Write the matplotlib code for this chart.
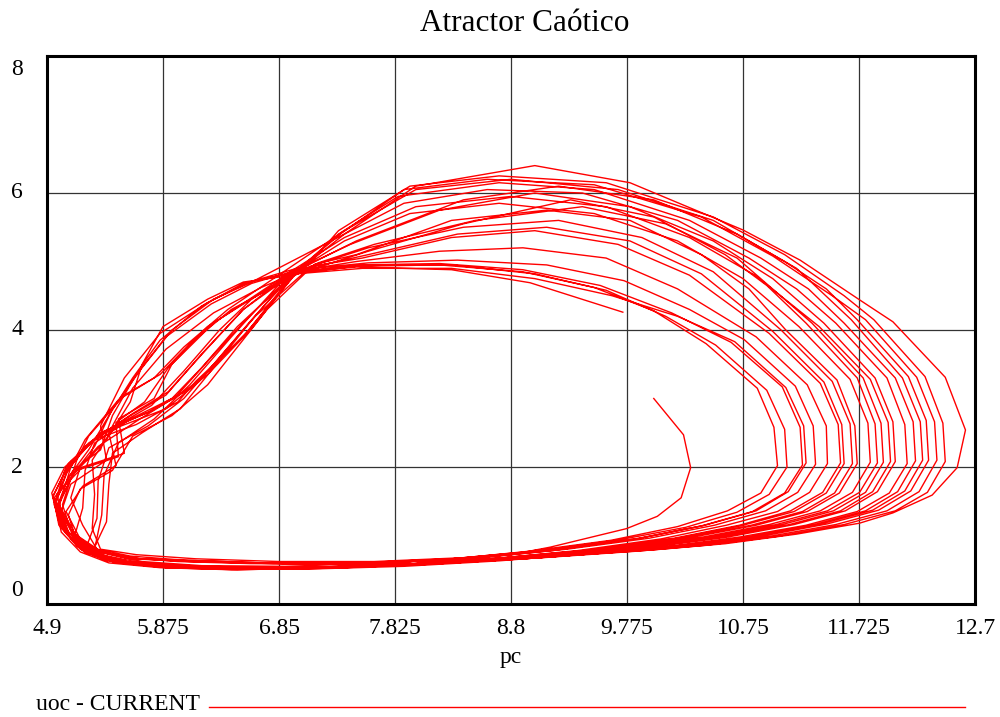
import numpy as np
import matplotlib
matplotlib.use("Agg")
import matplotlib.pyplot as plt

plt.rcParams['font.family'] = ['Liberation Serif', 'DejaVu Serif']

# trayectoria (pc, uoc), vuelta por vuelta
start = [(10.0, 3.0), (10.25, 2.47), (10.31, 1.99), (10.23, 1.55), (10.03, 1.28), (9.77, 1.1),
         (9.13, 0.83), (8.8, 0.72), (7.8, 0.6), (6.9, 0.55), (6.2, 0.56), (5.7, 0.62), (5.35, 0.75),
         (5.12, 1.02), (4.97, 1.5), (5.05, 1.95), (5.25, 2.35), (5.6, 2.75), (5.9, 3.05), (6.2, 3.65),
         (6.55, 4.3)]
loop_01 = [(7.0, 4.86), (7.5, 5.0), (8.2, 5.15), (8.9, 5.2), (9.6, 5.05), (10.2, 4.6), (10.86, 3.9),
           (11.29, 3.2), (11.45, 2.6), (11.46, 2.05), (11.31, 1.63), (11.04, 1.35), (10.61, 1.15),
           (10.06, 0.95), (9.36, 0.78), (8.5, 0.64), (7.7, 0.56), (6.9, 0.53), (6.2, 0.55), (5.7, 0.6),
           (5.35, 0.72), (5.15, 0.98), (5.0, 1.45), (5.12, 1.9), (5.3, 2.3), (5.45, 2.85), (5.7, 3.45),
           (5.95, 4.0), (6.3, 4.45), (6.62, 4.7)]
loop_02 = [(7.4, 5.4), (7.9, 5.85), (8.6, 6.05), (9.4, 6.0), (10.2, 5.6), (10.8, 5.05),
           (11.2, 4.6), (11.53, 4.1), (11.96, 3.3), (12.11, 2.62), (12.13, 2.05), (11.98, 1.62),
           (11.71, 1.35), (11.28, 1.15), (10.73, 0.98), (10.13, 0.84), (9.5, 0.74), (8.7, 0.63),
           (7.9, 0.55), (7.1, 0.51), (6.4, 0.51), (5.85, 0.55), (5.45, 0.64), (5.22, 0.82), (5.05, 1.1),
           (4.95, 1.56), (5.08, 2.05), (5.35, 2.5), (5.75, 2.8), (6.05, 3.1), (6.2, 3.3), (6.58, 3.97)]
loop_03 = [(6.97, 4.82), (7.5, 4.93), (8.2, 4.95), (8.9, 4.85), (9.5, 4.62), (10.0, 4.28), (10.44, 3.8),
           (10.87, 3.15), (11.01, 2.58), (11.04, 2.02), (10.9, 1.62), (10.62, 1.36), (10.2, 1.13),
           (9.64, 0.93), (8.95, 0.77), (8.2, 0.64), (7.4, 0.58), (6.6, 0.59), (6.0, 0.62), (5.55, 0.68),
           (5.3, 0.8), (5.36, 1.3), (5.38, 1.88), (5.5, 2.35), (5.8, 2.7), (6.1, 3.2), (6.45, 3.9)]
loop_04 = [(6.9, 4.76), (7.6, 5.15), (8.4, 5.55), (9.3, 5.9), (10.0, 5.65), (10.6, 5.1), (10.95, 4.65),
           (11.28, 4.1), (11.71, 3.3), (11.86, 2.63), (11.88, 2.06), (11.73, 1.63), (11.46, 1.36),
           (11.03, 1.16), (10.48, 0.98), (9.8, 0.82), (9.1, 0.7), (8.3, 0.61), (7.5, 0.54), (6.7, 0.51),
           (6.05, 0.53), (5.6, 0.6), (5.3, 0.74), (5.12, 1.0), (5.02, 1.35), (5.1, 1.75), (5.4, 2.1),
           (5.35, 2.6), (5.55, 3.3), (5.85, 3.95), (6.25, 4.4), (6.6, 4.7)]
loop_05 = [(7.1, 4.95), (7.35, 5.45), (7.95, 6.1), (8.7, 6.25), (9.6, 6.15), (10.5, 5.65), (11.1, 5.1),
           (11.6, 4.5), (11.85, 4.15), (12.28, 3.32), (12.43, 2.64), (12.45, 2.08), (12.3, 1.63),
           (12.03, 1.36), (11.6, 1.16), (11.05, 0.99), (10.45, 0.86), (9.85, 0.77), (9.1, 0.68),
           (8.3, 0.6), (7.5, 0.54), (6.7, 0.52), (6.0, 0.55), (5.5, 0.63), (5.25, 0.8), (5.08, 1.05),
           (4.98, 1.6), (5.2, 2.0), (5.55, 2.2), (5.5, 2.7), (5.8, 3.0), (5.95, 3.5), (6.3, 4.1)]
loop_06 = [(6.93, 4.83), (7.5, 4.95), (8.2, 4.97), (8.9, 4.88), (9.55, 4.65), (10.15, 4.25), (10.65, 3.82),
           (11.08, 3.17), (11.23, 2.58), (11.25, 2.03), (11.1, 1.62), (10.83, 1.35), (10.4, 1.14),
           (9.85, 0.95), (9.15, 0.78), (8.4, 0.65), (7.6, 0.59), (6.8, 0.59), (6.1, 0.62), (5.6, 0.66),
           (5.3, 0.78), (5.1, 1.08), (5.03, 1.45), (5.15, 2.1), (5.25, 2.45), (5.55, 3.05), (5.85, 3.35),
           (6.1, 3.8), (6.45, 4.3)]
loop_07 = [(7.15, 4.96), (7.5, 5.1), (8.3, 5.6), (9.1, 5.75), (9.8, 5.6), (10.4, 5.1), (10.8, 4.6),
           (11.11, 4.0), (11.54, 3.27), (11.69, 2.6), (11.71, 2.05), (11.56, 1.62), (11.29, 1.35),
           (10.86, 1.15), (10.31, 0.97), (9.61, 0.8), (8.9, 0.68), (8.1, 0.59), (7.3, 0.53), (6.5, 0.5),
           (5.9, 0.53), (5.5, 0.6), (5.22, 0.75), (5.05, 1.05), (4.96, 1.45), (5.06, 1.9), (5.22, 2.3),
           (5.5, 2.62), (5.78, 2.9), (6.05, 3.4), (6.35, 4.0), (6.62, 4.45)]
loop_08 = [(6.98, 4.85), (7.5, 5.3), (8.4, 5.9), (9.2, 6.1), (10.0, 5.9), (10.7, 5.4), (11.2, 4.9),
           (11.66, 4.15), (12.09, 3.3), (12.24, 2.66), (12.26, 2.1), (12.11, 1.65), (11.84, 1.37),
           (11.41, 1.17), (10.86, 0.99), (10.26, 0.86), (9.66, 0.76), (8.9, 0.67), (8.1, 0.59),
           (7.3, 0.53), (6.5, 0.51), (5.85, 0.54), (5.45, 0.62), (5.28, 0.76), (5.4, 1.2), (5.42, 1.75),
           (5.45, 2.2), (5.7, 2.5), (6.02, 2.85), (6.3, 3.45), (6.6, 4.1)]
loop_09 = [(6.96, 4.84), (7.6, 4.95), (8.3, 4.95), (9.0, 4.82), (9.6, 4.58), (10.1, 4.2), (10.52, 3.78),
           (10.95, 3.12), (11.1, 2.55), (11.12, 2.0), (10.97, 1.6), (10.7, 1.34), (10.27, 1.12),
           (9.72, 0.94), (9.05, 0.78), (8.3, 0.66), (7.5, 0.6), (6.7, 0.6), (6.05, 0.64), (5.6, 0.7),
           (5.32, 0.8), (5.2, 1.15), (5.1, 1.55), (5.18, 2.0), (5.4, 2.4), (5.6, 2.95), (5.7, 3.5),
           (5.875, 4.05), (6.25, 4.45), (6.55, 4.7)]
loop_10 = [(6.88, 4.78), (7.4, 5.35), (8.0, 5.8), (8.8, 5.95), (9.6, 5.8), (10.3, 5.35), (10.85, 4.8),
           (11.39, 4.05), (11.82, 3.28), (11.97, 2.65), (11.99, 2.08), (11.84, 1.64), (11.57, 1.36),
           (11.14, 1.16), (10.59, 0.98), (9.99, 0.84), (9.39, 0.74), (8.6, 0.64), (7.8, 0.56), (7.0, 0.52),
           (6.3, 0.52), (5.75, 0.56), (5.38, 0.66), (5.15, 0.85), (5.0, 1.2), (4.94, 1.62), (5.05, 2.0),
           (5.3, 2.4), (5.65, 2.62), (6.0, 2.95), (6.15, 3.25), (6.55, 3.9)]
loop_11 = [(7.0, 4.85), (7.4, 5.4), (8.0, 6.1), (9.0, 6.4), (9.8, 6.15), (10.75, 5.46), (11.23, 5.02),
           (11.73, 4.44), (12.01, 4.12), (12.45, 3.31), (12.62, 2.54), (12.55, 1.99), (12.34, 1.59),
           (12.01, 1.33), (11.73, 1.18), (11.2, 1.02), (10.6, 0.88), (10.0, 0.79), (9.3, 0.71), (8.5, 0.62),
           (7.7, 0.56), (6.9, 0.53), (6.2, 0.54), (5.65, 0.59), (5.3, 0.7), (5.1, 0.95), (4.98, 1.4),
           (5.08, 1.85), (5.25, 2.25), (5.42, 2.75), (5.62, 3.3), (5.85, 3.85), (6.2, 4.35), (6.55, 4.68)]
loop_12 = [(6.86, 4.8), (7.55, 4.9), (8.3, 4.9), (9.0, 4.75), (9.65, 4.5), (10.2, 4.2), (10.68, 3.83),
           (11.11, 3.16), (11.26, 2.6), (11.28, 2.06), (11.13, 1.64), (10.86, 1.36), (10.43, 1.15),
           (9.88, 0.96), (9.2, 0.8), (8.45, 0.68), (7.65, 0.62), (6.85, 0.62), (6.15, 0.66), (5.65, 0.72),
           (5.35, 0.8), (5.28, 1.1), (5.3, 1.6), (5.28, 2.1), (5.45, 2.55), (5.9, 2.85), (6.18, 3.25),
           (6.4, 3.7), (6.65, 4.2)]
loop_13 = [(7.12, 4.93), (7.55, 5.05), (8.3, 5.35), (9.0, 5.45), (9.7, 5.25), (10.3, 4.8), (10.97, 3.95),
           (11.4, 3.22), (11.55, 2.62), (11.57, 2.06), (11.42, 1.63), (11.15, 1.36), (10.72, 1.15),
           (10.17, 0.96), (9.47, 0.79), (8.7, 0.67), (7.9, 0.58), (7.1, 0.53), (6.4, 0.52), (5.8, 0.55),
           (5.4, 0.63), (5.18, 0.8), (5.03, 1.12), (4.97, 1.52), (5.12, 1.95), (5.35, 2.25), (5.45, 2.75),
           (5.65, 3.35), (5.9, 3.9), (6.28, 4.38), (6.62, 4.68)]
loop_14 = [(7.01, 4.88), (7.35, 5.4), (7.85, 5.95), (8.7, 6.15), (9.5, 6.05), (10.3, 5.6), (10.9, 5.05),
           (11.3, 4.6), (11.6, 4.1), (12.03, 3.3), (12.18, 2.66), (12.2, 2.09), (12.05, 1.64), (11.78, 1.36),
           (11.35, 1.16), (10.8, 0.98), (10.2, 0.85), (9.6, 0.75), (8.8, 0.65), (8.0, 0.57), (7.2, 0.52),
           (6.45, 0.5), (5.85, 0.53), (5.42, 0.6), (5.18, 0.76), (5.02, 1.05), (4.96, 1.55), (5.15, 1.95),
           (5.5, 2.15), (5.48, 2.65), (5.72, 2.95), (5.92, 3.45), (6.25, 4.05)]
loop_15 = [(6.97, 4.83), (7.4, 5.3), (7.95, 5.7), (8.7, 5.85), (9.5, 5.7), (10.2, 5.3), (10.75, 4.75),
           (11.22, 4.05), (11.65, 3.28), (11.8, 2.64), (11.82, 2.07), (11.67, 1.63), (11.4, 1.36),
           (10.97, 1.16), (10.42, 0.98), (9.72, 0.81), (9.0, 0.69), (8.2, 0.6), (7.4, 0.54), (6.6, 0.52),
           (5.95, 0.54), (5.52, 0.61), (5.25, 0.76), (5.07, 1.02), (5.0, 1.42), (5.1, 2.0), (5.22, 2.4),
           (5.5, 2.98), (5.8, 3.3), (6.05, 3.75), (6.42, 4.3)]
loop_16 = [(7.4, 5.45), (8.0, 6.05), (8.8, 6.2), (9.7, 6.05), (10.5, 5.6), (11.1, 5.0),
           (11.45, 4.6), (11.71, 4.15), (12.14, 3.32), (12.29, 2.68), (12.31, 2.1), (12.16, 1.65),
           (11.89, 1.37), (11.46, 1.17), (10.91, 0.99), (10.31, 0.86), (9.7, 0.76), (8.9, 0.66), (8.1, 0.58),
           (7.3, 0.53), (6.5, 0.51), (5.88, 0.54), (5.47, 0.62), (5.22, 0.78), (5.32, 1.25), (5.33, 1.8),
           (5.42, 2.28), (5.75, 2.6), (6.05, 3.0), (6.35, 3.6), (6.62, 4.15)]
loop_17 = [(6.99, 4.86), (7.6, 5.2), (8.4, 5.5), (9.2, 5.6), (9.9, 5.35), (10.5, 4.85), (11.07, 4.0),
           (11.5, 3.25), (11.65, 2.63), (11.67, 2.05), (11.52, 1.62), (11.25, 1.35), (10.82, 1.15),
           (10.27, 0.97), (9.57, 0.8), (8.8, 0.68), (8.0, 0.59), (7.2, 0.54), (6.45, 0.52), (5.85, 0.55),
           (5.45, 0.62), (5.2, 0.78), (5.04, 1.08), (4.98, 1.5), (5.08, 1.98), (5.28, 2.38), (5.62, 2.78),
           (5.92, 3.1), (6.22, 3.68), (6.55, 4.3)]
loop_18 = [(6.95, 4.84), (7.45, 5.25), (8.2, 5.75), (9.0, 6.0), (9.8, 5.8), (10.5, 5.3), (11.0, 4.75),
           (11.43, 4.1), (11.86, 3.3), (12.01, 2.66), (12.03, 2.08), (11.88, 1.64), (11.61, 1.36),
           (11.18, 1.16), (10.63, 0.98), (10.03, 0.84), (9.43, 0.74), (8.65, 0.64), (7.85, 0.56),
           (7.05, 0.52), (6.35, 0.52), (5.78, 0.56), (5.4, 0.65), (5.16, 0.83), (5.0, 1.15), (4.95, 1.58),
           (5.1, 2.08), (5.38, 2.52), (5.78, 2.82), (6.08, 3.12), (6.25, 3.35), (6.62, 4.02)]
loop_19 = [(7.02, 4.88), (7.6, 4.98), (8.35, 5.02), (9.1, 4.95), (9.75, 4.72), (10.3, 4.3), (10.76, 3.86),
           (11.19, 3.18), (11.34, 2.6), (11.36, 2.04), (11.21, 1.63), (10.94, 1.36), (10.51, 1.15),
           (9.96, 0.96), (9.27, 0.8), (8.5, 0.67), (7.7, 0.6), (6.9, 0.59), (6.2, 0.63), (5.68, 0.66),
           (5.36, 0.76), (5.17, 0.98), (5.06, 1.35), (5.2, 1.72), (5.48, 2.02), (5.42, 2.5), (5.62, 3.15),
           (5.9, 3.72), (6.3, 4.25), (6.7, 4.62)]
loop_20 = [(7.18, 4.98), (7.65, 5.25), (8.5, 5.6), (9.4, 5.8), (10.1, 5.55), (10.7, 5.05), (11.33, 4.1),
           (11.76, 3.3), (11.91, 2.64), (11.93, 2.07), (11.78, 1.63), (11.51, 1.36), (11.08, 1.16),
           (10.53, 0.98), (9.85, 0.82), (9.15, 0.71), (8.35, 0.62), (7.55, 0.55), (6.75, 0.52), (6.1, 0.54),
           (5.62, 0.6), (5.32, 0.73), (5.14, 0.97), (5.08, 1.3), (5.18, 1.68), (5.45, 1.95), (5.62, 2.45),
           (5.95, 2.75), (6.25, 3.2), (6.5, 3.75), (6.75, 4.3)]
loop_21 = [(6.98, 4.84), (7.38, 5.42), (7.9, 6.05), (8.6, 6.2), (9.5, 6.12), (10.4, 5.65), (11.0, 5.08),
           (11.5, 4.5), (11.78, 4.15), (12.21, 3.31), (12.36, 2.66), (12.38, 2.1), (12.23, 1.64),
           (11.96, 1.36), (11.53, 1.16), (10.98, 0.99), (10.38, 0.86), (9.78, 0.77), (9.0, 0.67), (8.2, 0.59),
           (7.4, 0.53), (6.6, 0.51), (5.92, 0.53), (5.5, 0.6), (5.26, 0.74), (5.12, 0.92), (5.2, 1.4),
           (5.22, 1.95), (5.3, 2.35), (5.6, 2.7), (5.95, 3.0), (6.2, 3.45), (6.5, 4.05)]
loop_22 = [(7.0, 4.87), (7.6, 5.1), (8.35, 5.4), (9.1, 5.5), (9.8, 5.3), (10.4, 4.82), (11.0, 3.98),
           (11.43, 3.24), (11.58, 2.62), (11.6, 2.05), (11.45, 1.62), (11.18, 1.35), (10.75, 1.15),
           (10.2, 0.96), (9.5, 0.79), (8.75, 0.67), (7.95, 0.58), (7.15, 0.53), (6.4, 0.52), (5.82, 0.55),
           (5.43, 0.63), (5.2, 0.8), (5.06, 1.1), (5.0, 1.48), (5.13, 1.92), (5.33, 2.3), (5.68, 2.7),
           (5.98, 3.02), (6.28, 3.6), (6.6, 4.2)]
end = [(7.0, 4.85), (7.5, 4.92), (8.3, 4.88), (8.96, 4.69), (9.74, 4.26)]

x_ticks = [4.9, 5.875, 6.85, 7.825, 8.8, 9.775, 10.75, 11.725, 12.7]
x_tick_labels = ["4.9", "5.875", "6.85", "7.825", "8.8", "9.775", "10.75", "11.725", "12.7"]
y_ticks = [0, 2, 4, 6, 8]

pts = np.array(start + loop_01 + loop_02 + loop_19 + loop_03 + loop_04 + loop_05 + loop_06 + loop_20
               + loop_07 + loop_08 + loop_09 + loop_10 + loop_21 + loop_11 + loop_12 + loop_13 + loop_14
               + loop_22 + loop_15 + loop_16 + loop_17 + loop_18 + end)

fig = plt.figure(figsize=(10, 7.17), dpi=100)
ax = fig.add_axes([0.047, 0.1576, 0.928, 0.7643])
ax.plot(pts[:, 0], pts[:, 1], color='red', lw=1.0)

ax.set_xlim(4.9, 12.7)
ax.set_ylim(0, 8)
ax.set_xticks(x_ticks)
ax.set_xticklabels(x_tick_labels, fontsize=17)
ax.set_yticks(y_ticks)
ax.set_yticklabels([])
ax.tick_params(length=0, pad=10)
ax.grid(True, color='#333333', lw=0.9)
for s in ax.spines.values():
    s.set_linewidth(2.2)

# etiquetas del eje y al estilo Vensim (0 y 8 hacia dentro)
for v in y_ticks:
    yy = v
    if v == 0:
        yy = 0.19
    if v == 8:
        yy = 7.8
    ax.text(-0.032, yy, str(v), transform=ax.get_yaxis_transform(), ha='center', va='center',
            fontsize=17)

ax.set_xlabel("pc", fontsize=17, labelpad=5.5)
fig.text(0.525, 0.967, "Atractor Caótico", ha='center', va='center', fontsize=22.5)

# leyenda
fig.text(0.036, 0.017, "uoc - CURRENT", ha='left', va='center', fontsize=17)
fig.add_artist(plt.Line2D([0.209, 0.965], [0.014, 0.014], color='red', lw=1.0))

fig.savefig("out.png", dpi=100)
